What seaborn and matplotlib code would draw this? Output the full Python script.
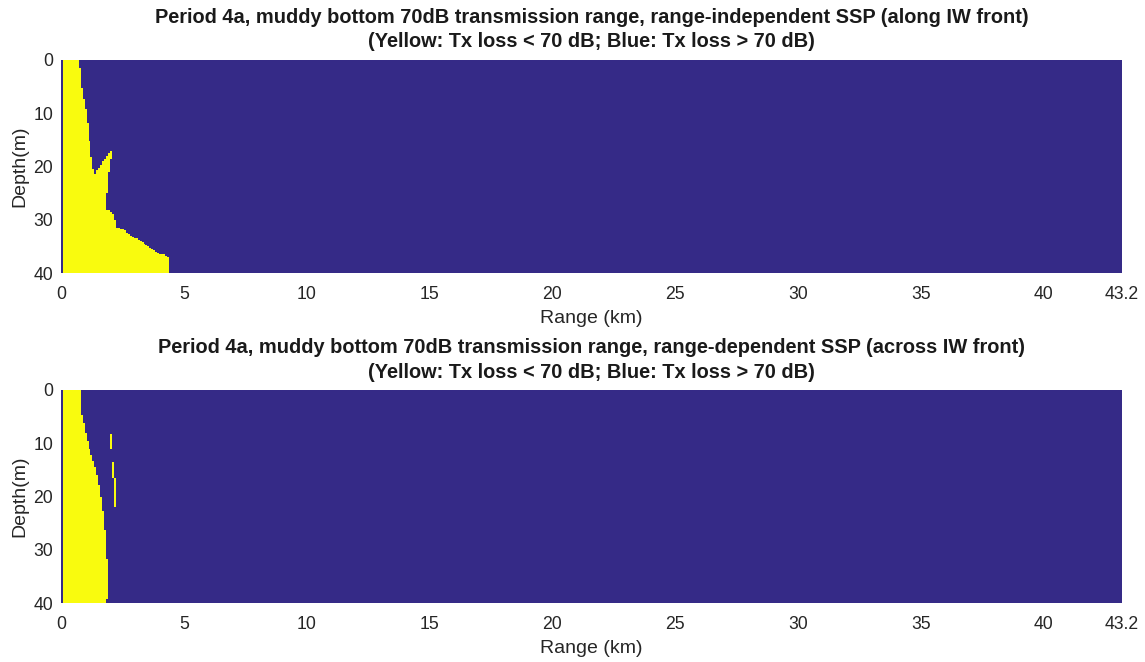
import numpy as np
import matplotlib
matplotlib.use("Agg")
import matplotlib.pyplot as plt
from matplotlib.colors import ListedColormap
from matplotlib.path import Path
import seaborn as sns

# Outline of the Tx loss < 70 dB zone, range-independent SSP (along IW front)
along_range_km = [0.00, 0.73, 0.84, 1.05, 1.15, 1.25, 1.36, 1.59, 1.83, 2.07, 2.11,
                  2.00, 1.93, 1.86, 1.83, 2.07, 2.20, 2.27, 2.54, 2.81, 3.08, 3.49,
                  3.76, 4.04, 4.31, 4.37, 4.37, 0.00]
along_depth_m = [0.0, 0.0, 5.3, 10.4, 14.8, 18.6, 21.7, 20.1, 18.2, 16.9, 17.3,
                 19.2, 22.3, 26.1, 28.1, 28.5, 29.9, 31.4, 31.8, 33.0, 33.6, 34.8,
                 35.7, 36.5, 36.7, 37.1, 40.0, 40.0]

# Outline of the Tx loss < 70 dB zone, range-dependent SSP (across IW front)
across_range_km = [0.00, 0.79, 0.82, 0.98, 1.18, 1.39, 1.59, 1.73, 1.83, 1.89, 1.94,
                   1.94, 1.86, 1.86, 0.00]
across_depth_m = [0.0, 0.0, 4.4, 7.5, 11.3, 14.4, 18.2, 23.2, 27.6, 32.6, 35.7,
                  38.9, 39.3, 40.0, 40.0]
# Isolated low-loss patches across the front: (range0, range1, depth0, depth1)
across_patch_range0 = [2.04, 2.11, 2.14]
across_patch_range1 = [2.11, 2.18, 2.27]
across_patch_depth0 = [8.3, 13.4, 16.5]
across_patch_depth1 = [10.9, 16.5, 21.9]

max_range_km = 43.2
max_depth_m = 40.0
xtick_vals = [0, 5, 10, 15, 20, 25, 30, 35, 40, 43.2]
xtick_text = ["0", "5", "10", "15", "20", "25", "30", "35", "40", "43.2"]
ytick_vals = [0, 10, 20, 30, 40]

titles = [
    "Period 4a, muddy bottom 70dB transmission range, range-independent SSP (along IW front)\n"
    "(Yellow: Tx loss < 70 dB; Blue: Tx loss > 70 dB)",
    "Period 4a, muddy bottom 70dB transmission range, range-dependent SSP (across IW front)\n"
    "(Yellow: Tx loss < 70 dB; Blue: Tx loss > 70 dB)",
]

# computational grid
dr = 0.08
dz = 0.25
r_cent = (np.arange(int(round(max_range_km / dr))) + 0.5) * dr
z_cent = (np.arange(int(round(max_depth_m / dz))) + 0.5) * dz
RR, ZZ = np.meshgrid(r_cent, z_cent)
pts = np.column_stack([RR.ravel(), ZZ.ravel()])


def zone_mask(rng, dep, patches=None):
    m = Path(np.column_stack([rng, dep])).contains_points(pts).reshape(RR.shape)
    if patches is not None:
        for r0, r1, z0, z1 in zip(*patches):
            m |= (RR >= r0) & (RR <= r1) & (ZZ >= z0) & (ZZ <= z1)
    m[:, 0] = False  # source column carries no solution
    return m.astype(float)


grids = [
    zone_mask(along_range_km, along_depth_m),
    zone_mask(across_range_km, across_depth_m,
              (across_patch_range0, across_patch_range1,
               across_patch_depth0, across_patch_depth1)),
]

sns.set_theme(style="white")
plt.rcParams["font.family"] = ["Liberation Sans", "DejaVu Sans"]

text_col = "#262626"
cmap = ListedColormap(["#352A87", "#F9FB0E"])
fig = plt.figure(figsize=(11.45, 6.62), dpi=100)
axes = [fig.add_axes([61 / 1145, 1 - 273 / 662, 1061 / 1145, 213 / 662]),
        fig.add_axes([61 / 1145, 1 - 603 / 662, 1061 / 1145, 213 / 662])]

for ax, grid, title in zip(axes, grids, titles):
    sns.heatmap(grid, ax=ax, cmap=cmap, vmin=0, vmax=1, cbar=False,
                xticklabels=False, yticklabels=False, rasterized=True)
    ax.set_xticks([v / dr for v in xtick_vals])
    ax.set_xticklabels(xtick_text, rotation=0, fontsize=12.7, color=text_col)
    ax.set_yticks([v / dz for v in ytick_vals])
    ax.set_yticklabels([str(v) for v in ytick_vals], rotation=0, fontsize=12.7,
                       color=text_col)
    ax.tick_params(axis="x", length=0, pad=9.5)
    ax.tick_params(axis="y", length=0, pad=5.5)
    ax.set_xlabel("Range (km)", fontsize=14, color=text_col, labelpad=5)
    ax.set_ylabel("Depth(m)", fontsize=14, color=text_col, labelpad=3.5)
    ax.set_title(title, fontsize=14.4, fontweight="bold", pad=9, linespacing=1.35,
                 color="#1a1a1a")
    for s in ax.spines.values():
        s.set_visible(False)

fig.savefig("out.png", dpi=100, facecolor="white")
